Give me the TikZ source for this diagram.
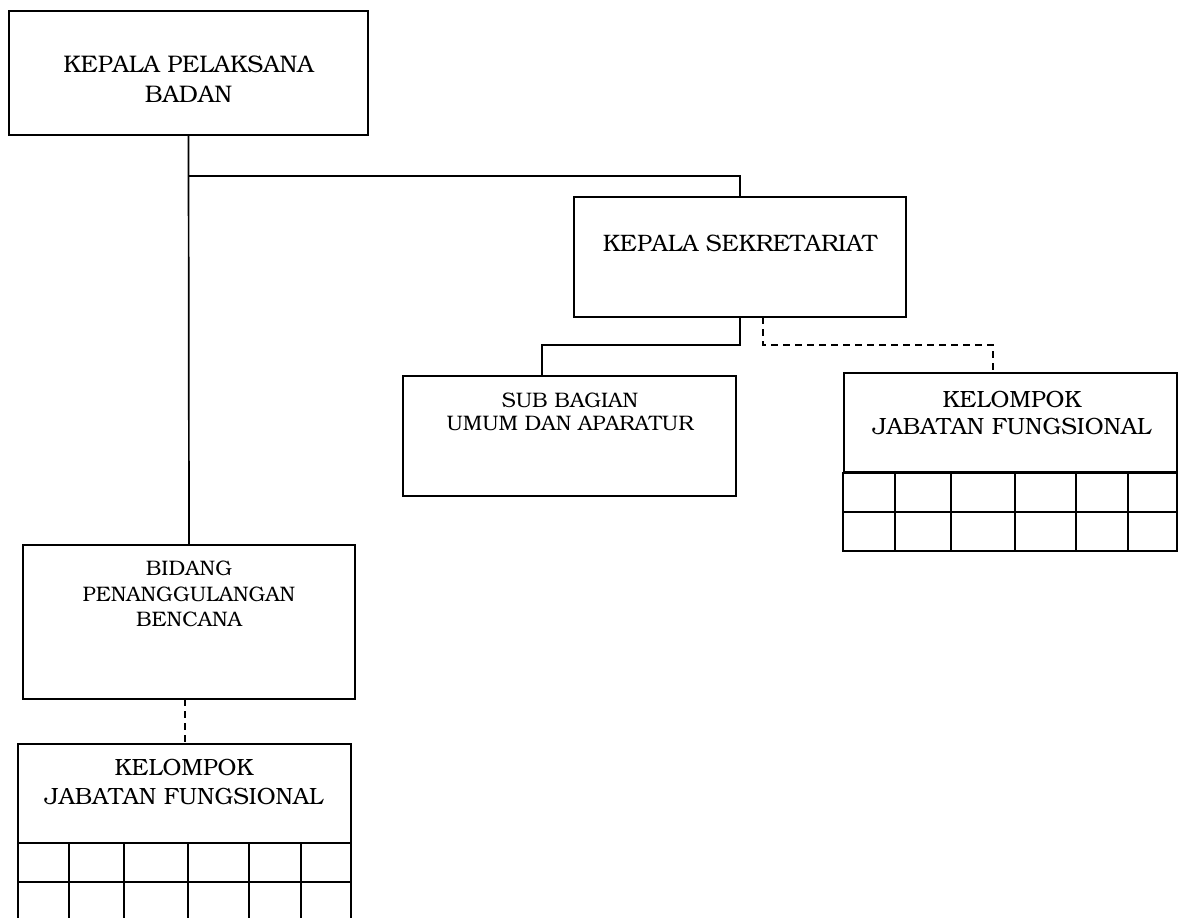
\documentclass[tikz,border=0pt]{standalone}
\usepackage[T1]{fontenc}
\usepackage{bookman}
\begin{document}
\begin{tikzpicture}[x=1pt,y=-1pt,
  box/.style={draw, rectangle, inner sep=0pt, line width=1.7pt},
  lbl/.style={align=center, inner sep=0pt},
  link/.style={line width=1.7pt},
  dlink/.style={line width=1.7pt, dash pattern=on 7pt off 5pt},
  grid line/.style={line width=1.7pt}]
\useasboundingbox (0,0) rectangle (1184,918);
\fill[white] (0,0) rectangle (1184,918);

% boxes
\node[box, minimum width=359pt, minimum height=124pt] (kpb) at (188.5,73) {};
\node[box, minimum width=332pt, minimum height=120pt] (ks) at (740,257) {};
\node[box, minimum width=333pt, minimum height=120pt] (sub) at (569.5,436) {};
\node[box, minimum width=333pt, minimum height=99pt] (kjfr) at (1010.5,422.5) {};
\node[box, minimum width=332pt, minimum height=154pt] (bid) at (189,622) {};
\node[box, minimum width=333pt, minimum height=99pt] (kjfl) at (184.5,793.5) {};

% labels
\node[lbl, font=\fontsize{24}{30}\selectfont] (tkpb) at (188.5,79) {KEPALA PELAKSANA\\BADAN};
\node[lbl, font=\fontsize{23.8}{30}\selectfont] (tks) at (740,243) {KEPALA SEKRETARIAT};
\node[lbl, font=\fontsize{21}{23}\selectfont] (tsub) at (570,412) {SUB BAGIAN\\UMUM DAN APARATUR};
\node[lbl, font=\fontsize{23.5}{27}\selectfont] (tkjfr) at (1012,413) {KELOMPOK\\JABATAN FUNGSIONAL};
\node[lbl, font=\fontsize{21}{25.5}\selectfont] (tbid) at (189,594) {BIDANG\\PENANGGULANGAN\\BENCANA};
\node[lbl, font=\fontsize{23.5}{29}\selectfont] (tkjfl) at (184,782) {KELOMPOK\\JABATAN FUNGSIONAL};

% tables
\draw[grid line] (kjfr.south west) rectangle (1177,551);
\draw[grid line] (844,512) -- (1177,512);
\foreach \x in {895,951,1015,1076,1128} \draw[grid line] (\x,472) -- (\x,551);
\draw[grid line] (18,843) -- (18,920);
\draw[grid line] (351,843) -- (351,920);
\draw[grid line] (18,882) -- (351,882);
\foreach \x in {69,124,188,249,301} \draw[grid line] (\x,843) -- (\x,920);

% connectors
\coordinate (j1) at (189,176);
\coordinate (subin) at (542,376);
\coordinate (ksd) at (763,317);
\coordinate (kjfrin) at (993,373);
\coordinate (bidd) at (185,699);
\coordinate (kjflin) at (185,744);
\draw[link] (kpb.south) -- (bid.north);
\draw[link] (j1) -| (ks.north);
\draw[link] (ks.south) -- ++(0,27) -| (subin);
\draw[dlink] (ksd) -- ++(0,28) -| (kjfrin);
\draw[dlink] (bidd) -- (kjflin);
\end{tikzpicture}
\end{document}
